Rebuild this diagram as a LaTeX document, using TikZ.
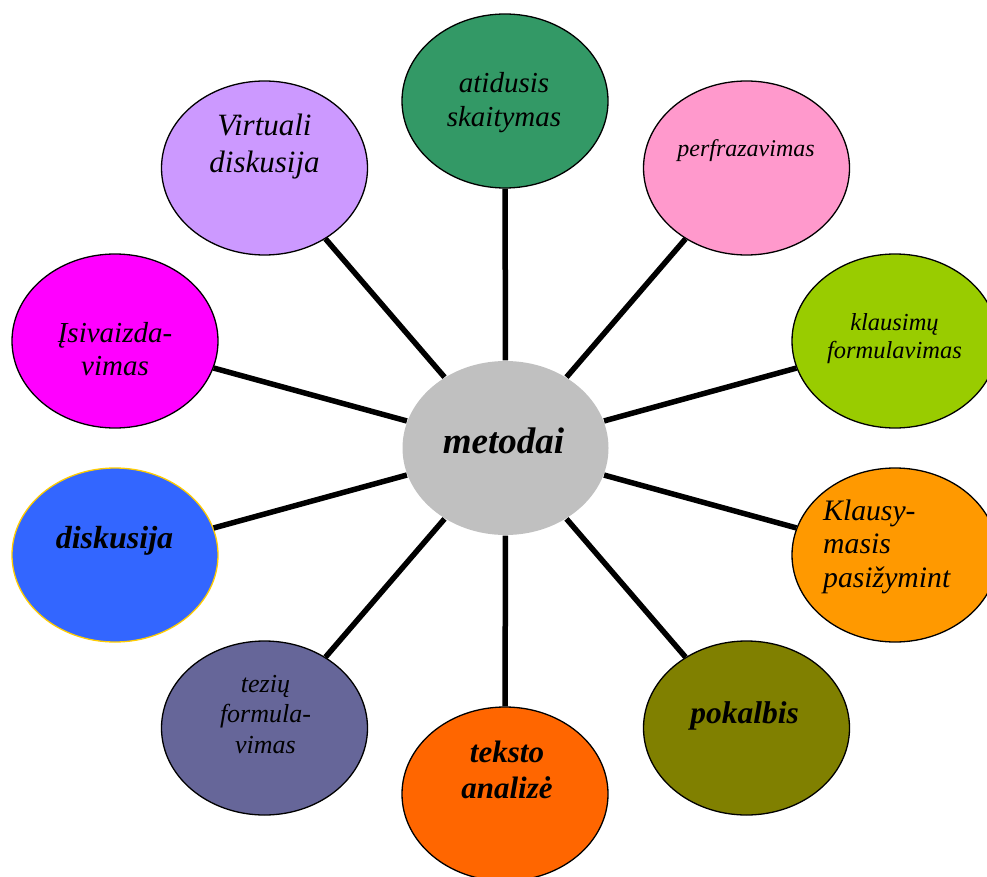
\documentclass[tikz,border=0pt]{standalone}
\usepackage{fontspec}
\setmainfont{Liberation Serif}
\usetikzlibrary{shapes.geometric}
\definecolor{metgray}{HTML}{C0C0C0}
\definecolor{atidgreen}{HTML}{339966}
\definecolor{perfpink}{HTML}{FF99CC}
\definecolor{klauslime}{HTML}{99CC00}
\definecolor{klausyorange}{HTML}{FF9900}
\definecolor{pokalolive}{HTML}{808000}
\definecolor{tekstoorange}{HTML}{FF6600}
\definecolor{tezslate}{HTML}{666699}
\definecolor{diskblue}{HTML}{3366FF}
\definecolor{diskrim}{HTML}{FFCC00}
\definecolor{isivmagenta}{HTML}{FF00FF}
\definecolor{virtlilac}{HTML}{CC99FF}
\begin{document}
\begin{tikzpicture}[x=1pt, y=-1pt,
  bubble/.style = {ellipse, draw, line width=1.3, minimum width=206, minimum height=174, inner sep=0},
  spoke/.style = {line width=5.5},
  word/.style = {anchor=base, align=center, inner sep=0}]
\useasboundingbox (0,0) rectangle (987,877);

% Centre
\node[bubble, draw=none, fill=metgray] (meto) at (505.5,448) {};

% Methods, clockwise from the top
\node[bubble, fill=atidgreen] (atid) at (505,101) {};
\node[bubble, fill=perfpink] (perf) at (746.5,168) {};
\node[bubble, fill=klauslime] (klaus) at (895,341) {};
\node[bubble, fill=klausyorange] (klausy) at (895,555) {};
\node[bubble, fill=pokalolive] (pokal) at (746.5,728) {};
\node[bubble, fill=tekstoorange] (teksto) at (505,794) {};
\node[bubble, fill=tezslate] (tez) at (264.5,728) {};
\node[bubble, draw=diskrim, fill=diskblue] (disk) at (115,555) {};
\node[bubble, fill=isivmagenta] (isiv) at (115,341) {};
\node[bubble, fill=virtlilac] (virt) at (264.5,168) {};

% Spokes
\foreach \m in {atid,perf,klaus,klausy,pokal,teksto,tez,disk,isiv,virt}
  \draw[spoke] (meto) -- (\m);

% Texts (base = last line)
\node[word, font=\fontsize{37}{44}\selectfont\bfseries\itshape] (metot) at (503.5,453) {metodai};
\node[word, font=\fontsize{29}{34}\selectfont\itshape] (atidt) at (504,127) {atidusis\\skaitymas};
\node[word, font=\fontsize{24}{28}\selectfont\itshape] (perft) at (746,157) {perfrazavimas};
\node[word, font=\fontsize{24.5}{28}\selectfont\itshape] (klaust) at (894.5,358) {klausimų\\formulavimas};
\node[word, anchor=base west, align=left, font=\fontsize{29.7}{33.5}\selectfont\itshape] (klausyt) at (823,587) {Klausy-\\masis\\pasižymint};
\node[word, font=\fontsize{31.5}{36}\selectfont\bfseries\itshape] (pokalt) at (744.5,723) {pokalbis};
\node[word, font=\fontsize{31}{36}\selectfont\bfseries\itshape] (tekstot) at (507,798) {teksto\\analizė};
\node[word, font=\fontsize{26}{30.5}\selectfont\itshape] (tezt) at (265.5,753) {tezių\\formula-\\vimas};
\node[word, font=\fontsize{32}{38}\selectfont\bfseries\itshape] (diskt) at (114.5,548) {diskusija};
\node[word, font=\fontsize{29}{33}\selectfont\itshape] (isivt) at (115,375) {Įsivaizda-\\vimas};
\node[word, font=\fontsize{31}{37}\selectfont\itshape] (virtt) at (264.5,173) {Virtuali\\diskusija};
\end{tikzpicture}
\end{document}
